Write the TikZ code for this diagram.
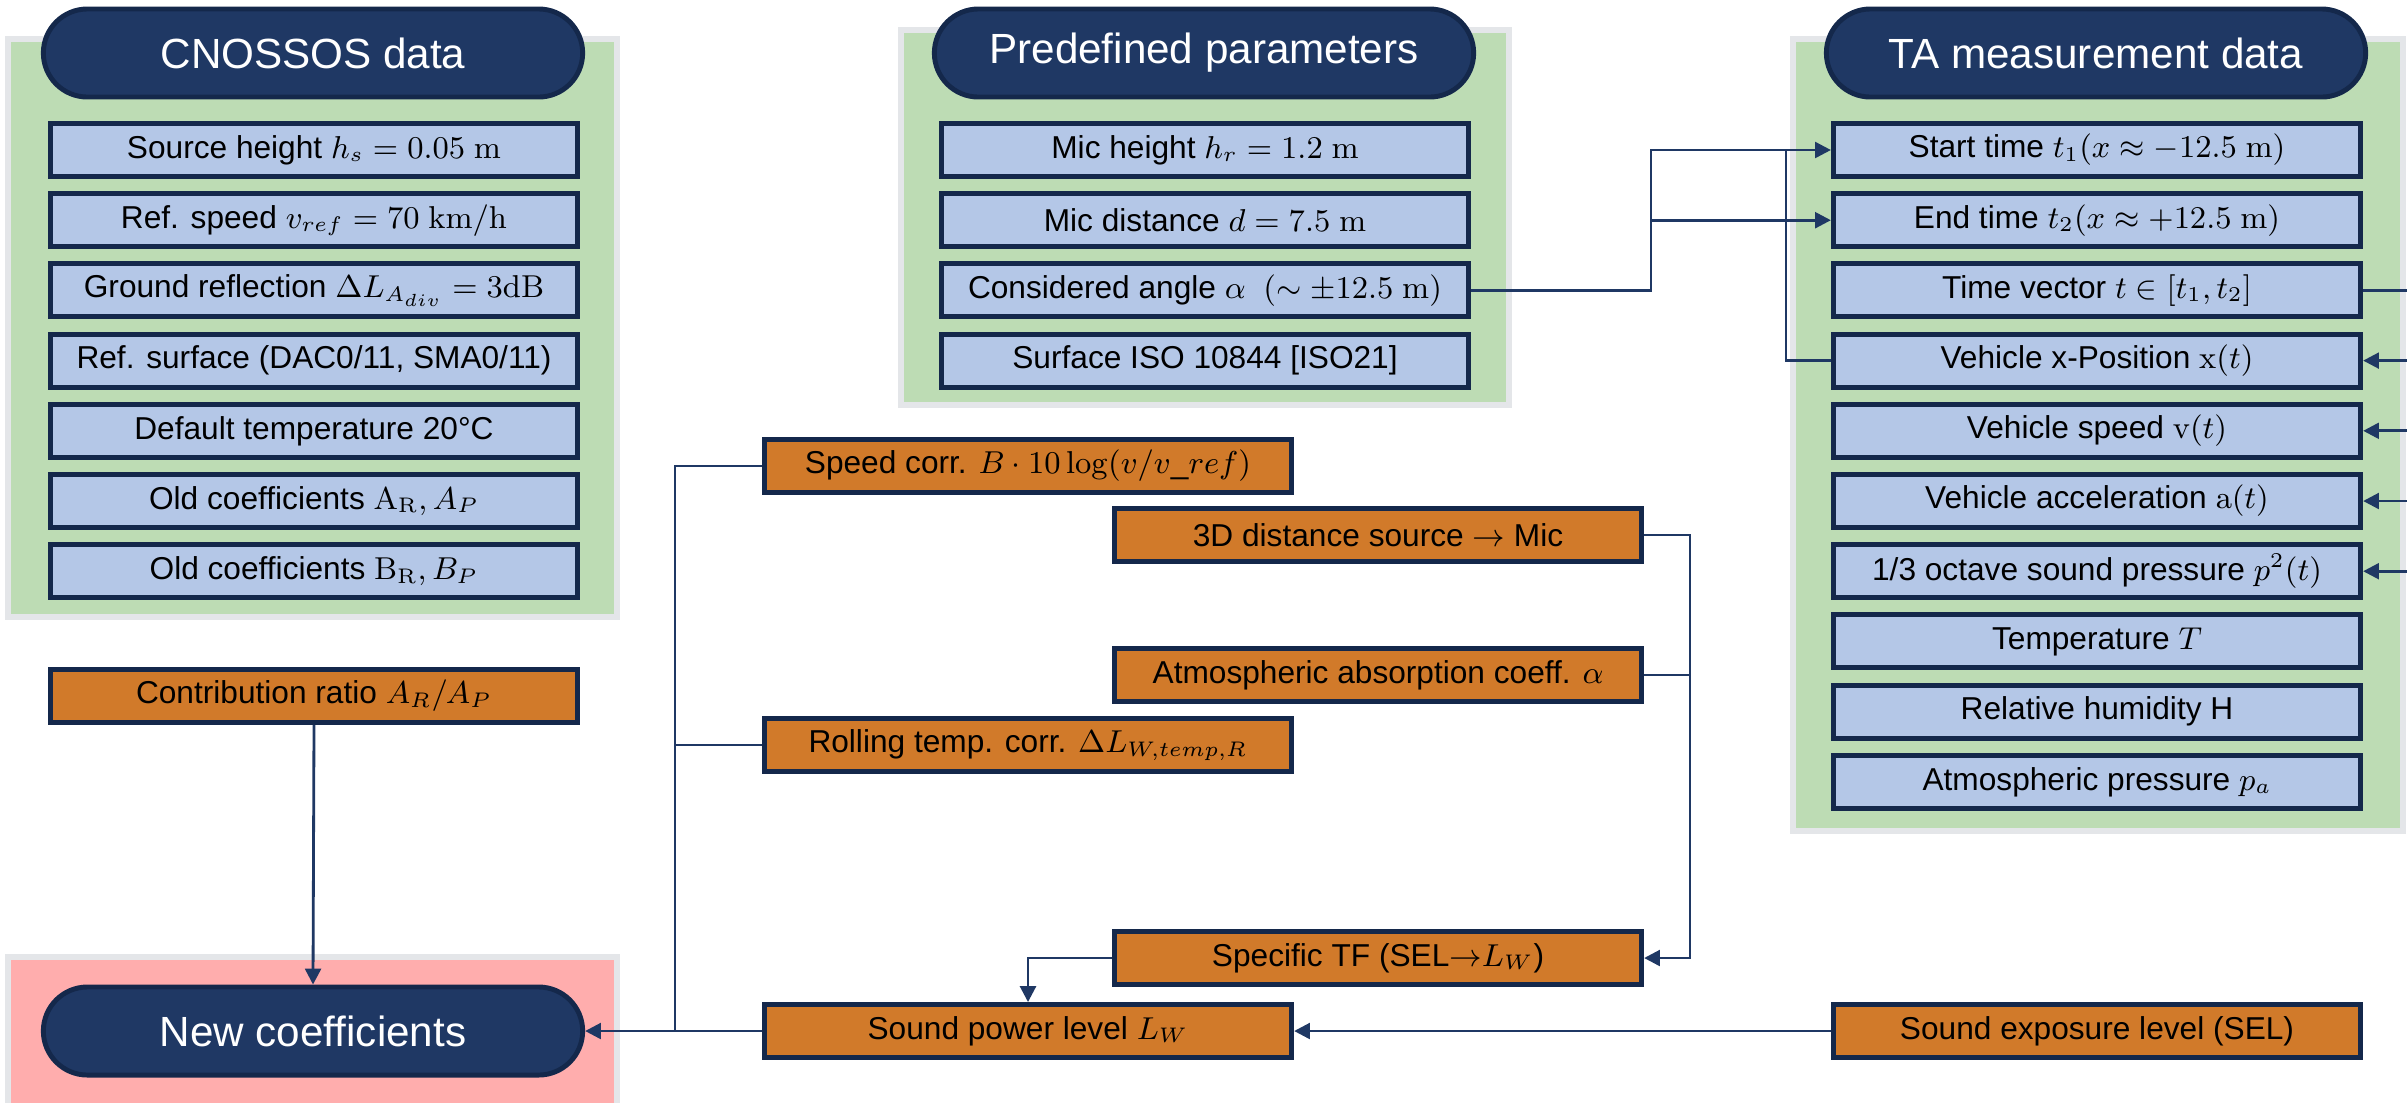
\documentclass[tikz,border=0pt]{standalone}
\usepackage{amsmath}
\usepackage[no-math]{fontspec}
\setmainfont{Liberation Sans}
\usetikzlibrary{arrows.meta,positioning,calc}
\definecolor{navy}{HTML}{1F3864}
\definecolor{navyline}{HTML}{14284B}
\definecolor{boxblue}{HTML}{B4C7E7}
\definecolor{boxorange}{HTML}{D17A2A}
\definecolor{panelgreen}{HTML}{BDDCB4}
\definecolor{panelrim}{HTML}{E4E6E9}
\definecolor{panelpink}{HTML}{FFADAD}
\newcommand{\unitm}{\ \mathrm{m}}

\begin{document}
\begin{tikzpicture}[x=0.01cm, y=-0.01cm,
  panel/.style={fill=panelgreen, draw=panelrim, line width=1.7pt},
  titlepill/.style={fill=navy, draw=navyline, line width=1.4pt, rounded corners=0.44cm,
    minimum width=5.39cm, minimum height=0.88cm, inner sep=0pt, text=white,
    font=\fontsize{12}{14}\selectfont},
  databox/.style={fill=boxblue, draw=navyline, line width=1.4pt, minimum width=5.27cm,
    minimum height=0.53cm, inner sep=0pt, font=\fontsize{9}{11}\selectfont},
  calcbox/.style={databox, fill=boxorange},
  conn/.style={draw=navy, line width=0.8pt},
  arr/.style={conn, -{Triangle[length=4.5pt,width=4.5pt]}}]
  \useasboundingbox (0,0) rectangle (2407,1102);

  % 背景パネル
  \draw[panel] (8,39) rectangle (617,617);
  \draw[panel] (901,30) rectangle (1509,405);
  \draw[panel] (1793,39) rectangle (2403,831);
  \draw[panel, fill=panelpink] (8,957) rectangle (617,1108);

  % タイトル
  \node[titlepill] (cnT) at (313,53) {CNOSSOS data};
  \node[titlepill] (ppT) at (1204,53) {Predefined parameters};
  \node[titlepill] (taT) at (2096,53) {TA measurement data};
  \node[titlepill] (nc) at (313,1031) {New coefficients};

  % CNOSSOS data
  \foreach \i/\txt in {0/{Source height $h_s = 0.05\unitm$},
                       1/{Ref. speed $v_{ref} = 70\ \mathrm{km/h}$},
                       2/{Ground reflection $\Delta L_{A_{div}} = 3\mathrm{dB}$},
                       3/{Ref. surface (DAC0/11, SMA0/11)},
                       4/{Default temperature 20°C},
                       5/{Old coefficients $\mathrm{A_R}, A_P$},
                       6/{Old coefficients $\mathrm{B_R}, B_P$}} {
    \node[databox] (cn\i) at (314,150+70.2*\i) {\txt};
  }

  % Predefined parameters
  \foreach \i/\txt in {0/{Mic height $h_r = 1.2\unitm$},
                       1/{Mic distance $d = 7.5\unitm$},
                       2/{Considered angle $\alpha\ \ (\sim \pm 12.5\unitm)$},
                       3/{Surface ISO 10844 [ISO21]}} {
    \node[databox] (pp\i) at (1205,150+70.2*\i) {\txt};
  }

  % TA measurement data
  \foreach \i/\txt in {0/{Start time $t_1(x \approx -12.5\unitm)$},
                       1/{End time $t_2(x \approx +12.5\unitm)$},
                       2/{Time vector $t \in [t_1, t_2]$},
                       3/{Vehicle x-Position $\mathrm{x}(t)$},
                       4/{Vehicle speed $\mathrm{v}(t)$},
                       5/{Vehicle acceleration $\mathrm{a}(t)$},
                       6/{1/3 octave sound pressure $p^2(t)$},
                       7/{Temperature $T$},
                       8/{Relative humidity H},
                       9/{Atmospheric pressure $p_a$}} {
    \node[databox] (ta\i) at (2097,150+70.2*\i) {\txt};
  }

  % 計算ステップ
  \node[calcbox] (cr) at (314,696) {Contribution ratio $A_R/A_P$};
  \node[calcbox] (sc) at (1028,466) {Speed corr. $B \cdot 10\log(v/v\_ref)$};
  \node[calcbox] (d3) at (1378,535) {3D distance source $\rightarrow$ Mic};
  \node[calcbox] (aa) at (1378,675) {Atmospheric absorption coeff. $\alpha$};
  \node[calcbox] (rt) at (1028,745) {Rolling temp. corr. $\Delta L_{W,temp,R}$};
  \node[calcbox] (tf) at (1378,958) {Specific TF (SEL$\mathord{\rightarrow}L_W$)};
  \node[calcbox] (spl) at (1028,1031) {Sound power level $L_W$};
  \node[calcbox] (sel) at (2097,1031) {Sound exposure level (SEL)};

  % 分岐点
  \coordinate (jA) at (1651,150);
  \coordinate (jB) at (1786,150);
  \coordinate (jC) at (675,1031);
  \coordinate (jD) at (1690,958);
  \coordinate (rim) at (2410,0);

  % 接続
  \draw[arr] (pp2.east) -| (jA) -- (ta0.west);
  \draw[arr] (jA |- ta1.west) -- (ta1.west);
  \draw[conn] (ta3.west) -| (jB);
  \draw[conn] (ta2.east) -- (ta2.east -| rim);
  \foreach \k in {3,...,6}
    \draw[arr] (ta\k.east -| rim) -- (ta\k.east);
  \draw[arr] (cr.south) -- (nc.north);
  \draw[conn] (sc.west) -| (jC);
  \draw[conn] (rt.west) -- (rt.west -| jC);
  \draw[arr] (spl.west) -- (nc.east);
  \draw[arr] (d3.east) -| (jD) -- (tf.east);
  \draw[conn] (aa.east) -- (aa.east -| jD);
  \draw[arr] (tf.west) -| (spl.north);
  \draw[arr] (sel.west) -- (spl.east);
\end{tikzpicture}
\end{document}
